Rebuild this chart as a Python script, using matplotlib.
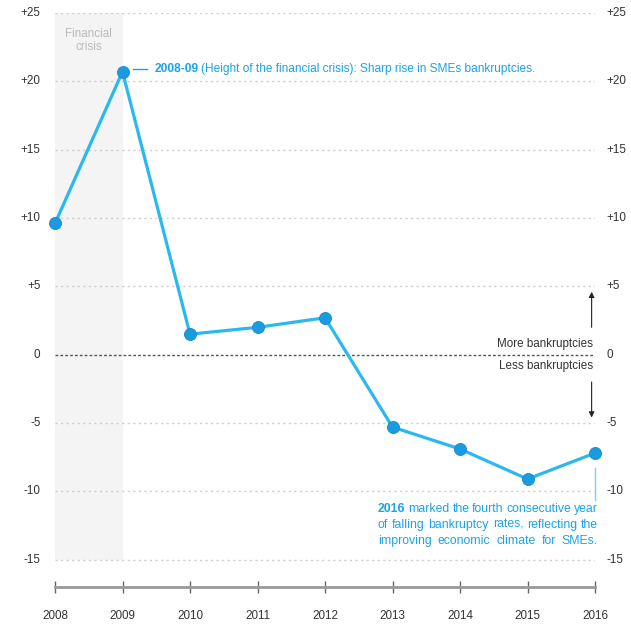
import matplotlib
matplotlib.use("Agg")
import matplotlib.pyplot as plt

years = [2008, 2009, 2010, 2011, 2012, 2013, 2014, 2015, 2016]
values = [9.6, 20.7, 1.5, 2.0, 2.7, -5.3, -6.9, -9.1, -7.2]
yticks = [25, 20, 15, 10, 5, 0, -5, -10, -15]
ytick_labels = ["+25", "+20", "+15", "+10", "+5", "0", "-5", "-10", "-15"]

LINE = "#2bb8f0"
MARK = "#1a9be0"
TXT = "#333333"
BLUE_TXT = "#1aa3e8"
FS = 8.4

plt.rcParams['font.family'] = ['Liberation Sans', 'DejaVu Sans']

fig = plt.figure(figsize=(6.31, 6.25), dpi=100)
ax = fig.add_axes([55/631, 1-587/625, (595-55)/631, (587-13)/625])
ax.set_xlim(2008, 2016)
ax.set_ylim(-17, 25)

# crisis shading
ax.fill_between([2008, 2009], -15, 25, color="#f4f4f4", zorder=0, lw=0)
ax.text(2008.5, 23.0, "Financial\ncrisis", ha="center", va="center", fontsize=8.4,
        color="#bbbbbb", linespacing=1.1)

# grid
for t in yticks:
    if t == 0:
        ax.axhline(t, color="#555555", lw=1.0, ls=(0, (2, 1.5)), zorder=1)
    else:
        ax.axhline(t, color="#cccccc", lw=1.0, ls=(0, (1.5, 2.5)), zorder=1)

ax.plot(years, values, color=LINE, lw=2.3, zorder=3, clip_on=False)
ax.scatter(years, values, s=75, color=MARK, edgecolor="#1a88c8", lw=0.6, zorder=4, clip_on=False)

for s in ["top", "left", "right"]:
    ax.spines[s].set_visible(False)
ax.spines["bottom"].set_color("#999999")
ax.spines["bottom"].set_linewidth(2)
ax.set_xticks(years)
ax.set_xticklabels([str(y) for y in years])
ax.tick_params(axis="x", direction="inout", length=9, width=1, color="#666666",
               labelsize=FS, labelcolor=TXT, pad=12)
ax.set_yticks([])

# y labels both sides
for t, lab in zip(yticks, ytick_labels):
    ax.text(-0.027, t, lab, transform=ax.get_yaxis_transform(), ha="right", va="center",
            fontsize=FS, color=TXT)
    ax.text(1.022, t, lab, transform=ax.get_yaxis_transform(), ha="left", va="center",
            fontsize=FS, color=TXT)

fig.canvas.draw()
r = fig.canvas.get_renderer()
inv = ax.transData.inverted()

def px_to_x(px):
    return inv.transform((px, 0))[0]

# top annotation
ax.plot([2009.15, 2009.37], [20.9, 20.9], color=BLUE_TXT, lw=1, clip_on=False)
t1 = ax.text(2009.47, 20.9, "2008-09", ha="left", va="center", fontsize=8.6,
             color=BLUE_TXT, fontweight="bold")
bb = t1.get_window_extent(renderer=r)
ax.text(px_to_x(bb.x1 + 3), 20.9,
        "(Height of the financial crisis): Sharp rise in SMEs bankruptcies.",
        ha="left", va="center", fontsize=8.6, color=BLUE_TXT)

# bottom annotation (justified)
ax.plot([2016, 2016], [-8.3, -10.6], color="#7fd0f5", lw=1, clip_on=False)
lines = ["2016 marked the fourth consecutive year",
         "of falling bankruptcy rates, reflecting the",
         "improving economic climate for SMEs."]
ys = [-11.3, -12.45, -13.6]
left_px = ax.transData.transform((2008, 0))[0] + (378 - 55)
right_px = ax.transData.transform((2016, 0))[0] + 3
for li, (line, yv) in enumerate(zip(lines, ys)):
    words = line.split(" ")
    arts = []
    for wi, w in enumerate(words):
        bold = (li == 0 and wi == 0)
        a = ax.text(0, yv, w, ha="left", va="center", fontsize=8.8, color=BLUE_TXT,
                    fontweight="bold" if bold else "normal")
        arts.append(a)
    widths = [a.get_window_extent(renderer=r).width for a in arts]
    gap = (right_px - left_px - sum(widths)) / (len(words) - 1)
    x = left_px
    for a, wd in zip(arts, widths):
        a.set_x(px_to_x(x))
        x += wd + gap

# more / less bankruptcies
ax.text(2015.97, 0.8, "More bankruptcies", ha="right", va="center", fontsize=FS, color=TXT)
ax.text(2015.97, -0.8, "Less bankruptcies", ha="right", va="center", fontsize=FS, color=TXT)
ax.annotate("", xy=(2015.95, 4.8), xytext=(2015.95, 1.8),
            arrowprops=dict(arrowstyle="-|>", color="#222222", lw=0.8, mutation_scale=8))
ax.annotate("", xy=(2015.95, -4.8), xytext=(2015.95, -1.8),
            arrowprops=dict(arrowstyle="-|>", color="#222222", lw=0.8, mutation_scale=8))

fig.savefig("out.png", dpi=100)
